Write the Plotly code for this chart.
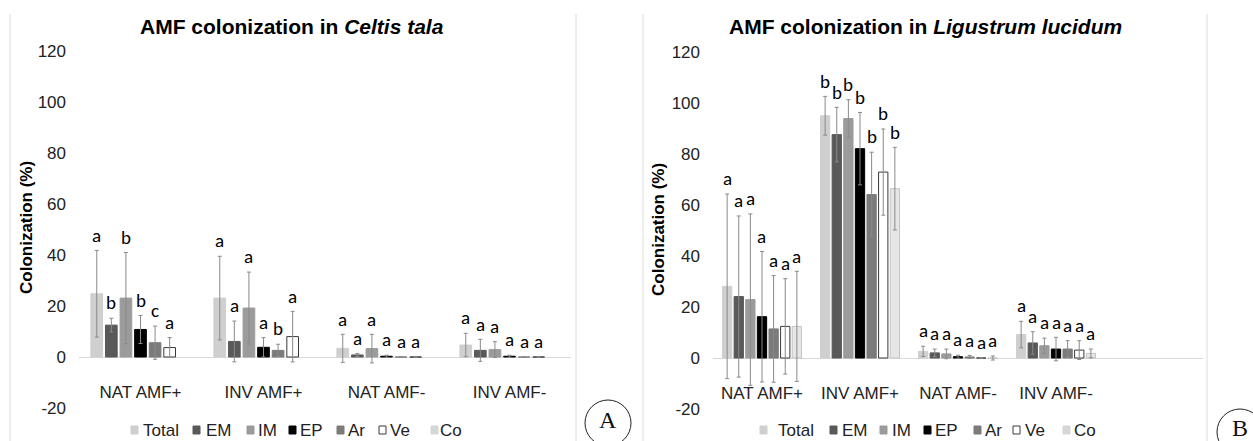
import plotly.graph_objects as go

# ---------------- data ----------------
categories = ["NAT AMF+", "INV AMF+", "NAT AMF-", "INV AMF-"]
series_names = ["Total", "EM", "IM", "EP", "Ar", "Ve", "Co"]

# Panel A: Celtis tala (means)
celtis_total = [24.8, 23.1, 3.4, 4.7]
celtis_em = [12.5, 6.1, 0.8, 2.6]
celtis_im = [23.1, 19.2, 3.3, 2.9]
celtis_ep = [10.8, 3.8, 0.3, 0.3]
celtis_ar = [5.6, 2.6, 0.0, 0.0]
celtis_ve = [3.7, 8.0, 0.0, 0.0]
celtis_co = [None, None, None, None]
# Panel A: error bars (None = no error bar drawn)
celtis_total_err = [17.0, 16.4, 5.5, 4.6]
celtis_em_err = [2.7, 8.0, 0.6, 4.3]
celtis_im_err = [17.9, 14.1, 5.6, 3.1]
celtis_ep_err = [5.5, 3.8, 0.4, 0.4]
celtis_ar_err = [6.5, 2.4, None, None]
celtis_ve_err = [3.9, 9.9, None, None]
celtis_co_err = [None, None, None, None]
# Panel A: significance letters (per series, per category)
celtis_letters = [
    ["a", "a", "a", "a"],   # Total
    ["b", "a", "a", "a"],   # EM
    ["b", "a", "a", "a"],   # IM
    ["b", "a", "a", "a"],   # EP
    ["c", "b", "a", "a"],   # Ar
    ["a", "a", "a", "a"],   # Ve
    ["", "", "", ""],       # Co
]

# Panel B: Ligustrum lucidum (means)
lig_total = [28.1, 95.0, 2.6, 9.2]
lig_em = [24.1, 87.6, 2.0, 5.9]
lig_im = [22.9, 93.9, 1.6, 4.8]
lig_ep = [16.2, 82.1, 0.5, 3.5]
lig_ar = [11.4, 64.1, 0.4, 3.5]
lig_ve = [12.4, 72.9, 0.0, 3.1]
lig_co = [12.4, 66.4, 0.0, 1.8]
# Panel B: error bars
lig_total_err = [36.2, 7.6, 2.0, 5.2]
lig_em_err = [31.6, 10.7, 1.5, 4.4]
lig_im_err = [33.6, 7.4, 1.9, 3.0]
lig_ep_err = [25.6, 14.2, 0.6, 4.6]
lig_ar_err = [20.9, 16.6, 0.6, 3.3]
lig_ve_err = [18.7, 16.9, None, 3.7]
lig_co_err = [21.6, 16.2, 0.8, 1.7]
lig_letters = [
    ["a", "b", "a", "a"],
    ["a", "b", "a", "a"],
    ["a", "b", "a", "a"],
    ["a", "b", "a", "a"],
    ["a", "b", "a", "a"],
    ["a", "b", "a", "a"],
    ["a", "b", "a", "a"],
]

y_ticks = [-20, 0, 20, 40, 60, 80, 100, 120]
y_tick_labels = ["-20", "0", "20", "40", "60", "80", "100", "120"]

# ---------------- style ----------------
W, H = 1253, 441
FONT = "Arial, Liberation Sans, sans-serif"
LETTER_FONT = "Carlito, Lato, sans-serif"
fills = ["#cfcfcf", "#595959", "#9b9b9b", "#000000", "#7b7b7b", "#ffffff", "#e6e6e6"]
lines = ["#cfcfcf", "#595959", "#9b9b9b", "#000000", "#7b7b7b", "#3a3a3a", "#c4c4c4"]
legend_fill = ["#cfcfcf", "#595959", "#9b9b9b", "#000000", "#7b7b7b", "#ffffff", "#d6d6d6"]
legend_line = ["#cfcfcf", "#595959", "#9b9b9b", "#000000", "#7b7b7b", "#3a3a3a", "#d6d6d6"]
BARGAP = 0.17
BARGROUPGAP = 0.2
LETTER_PAD = 6.0

# legend layout: (square left x, text left x) in pixels, per panel
legend_pos = [
    [(131, 142), (193, 205), (247, 257), (289, 299), (337, 347), (379, 389), (431, 439)],
    [(760, 777), (830, 841), (880, 891), (924, 934), (974, 984), (1013, 1024), (1063, 1073)],
]
LEGEND_Y = 430


def px_x(p):
    return p / W


def px_y(p):
    return 1 - p / H


celtis_means = [celtis_total, celtis_em, celtis_im, celtis_ep, celtis_ar, celtis_ve, celtis_co]
celtis_errs = [celtis_total_err, celtis_em_err, celtis_im_err, celtis_ep_err,
               celtis_ar_err, celtis_ve_err, celtis_co_err]
lig_means = [lig_total, lig_em, lig_im, lig_ep, lig_ar, lig_ve, lig_co]
lig_errs = [lig_total_err, lig_em_err, lig_im_err, lig_ep_err, lig_ar_err, lig_ve_err, lig_co_err]

fig = go.Figure()
annotations = []
shapes = []

panels = [
    dict(means=celtis_means, errs=celtis_errs, letters=celtis_letters, xa="x", ya="y"),
    dict(means=lig_means, errs=lig_errs, letters=lig_letters, xa="x2", ya="y2"),
]

nser = len(series_names)
slot = (1 - BARGAP) / nser
for pi, p in enumerate(panels):
    for j, name in enumerate(series_names):
        fig.add_trace(go.Bar(
            x=categories, y=p["means"][j], name=name,
            xaxis=p["xa"], yaxis=p["ya"], offsetgroup=str(j),
            marker=dict(color=fills[j], line=dict(color=lines[j], width=1)),
            error_y=dict(type="data", array=p["errs"][j], visible=True,
                         color="#8a8a8a", thickness=1, width=2),
            showlegend=False,
        ))
        for ci in range(len(categories)):
            letter = p["letters"][j][ci]
            v = p["means"][j][ci]
            if not letter or v is None:
                continue
            e = p["errs"][j][ci] or 0
            annotations.append(dict(
                x=ci + (j - (nser - 1) / 2) * slot, y=v + e + LETTER_PAD,
                xref=p["xa"], yref=p["ya"], text=letter, showarrow=False,
                font=dict(family=LETTER_FONT, size=19, color="#000"),
                xanchor="center", yanchor="middle",
            ))
        # legend item
        sx, tx = legend_pos[pi][j]
        shapes.append(dict(type="rect", xref="paper", yref="paper",
                           x0=px_x(sx), x1=px_x(sx + 7), y0=px_y(LEGEND_Y + 4), y1=px_y(LEGEND_Y - 4),
                           fillcolor=legend_fill[j], line=dict(color=legend_line[j], width=1)))
        annotations.append(dict(x=px_x(tx), y=px_y(LEGEND_Y), xref="paper", yref="paper",
                                text=name, showarrow=False,
                                font=dict(family=FONT, size=17, color="#222"),
                                xanchor="left", yanchor="middle", xshift=-1))

# titles
annotations.append(dict(x=px_x(292), y=px_y(26), xref="paper", yref="paper",
                        text="<b>AMF colonization in <i>Celtis tala</i></b>", showarrow=False,
                        font=dict(family=FONT, size=21, color="#000"), xanchor="center", yanchor="middle"))
annotations.append(dict(x=px_x(925), y=px_y(26), xref="paper", yref="paper",
                        text="<b>AMF colonization in <i>Ligustrum lucidum</i></b>", showarrow=False,
                        font=dict(family=FONT, size=21, color="#000"), xanchor="center", yanchor="middle"))
# y-axis titles
for xc, yc in [(26, 228), (658, 230)]:
    annotations.append(dict(x=px_x(xc), y=px_y(yc), xref="paper", yref="paper",
                            text="<b>Colonization (%)</b>", textangle=-90, showarrow=False,
                            font=dict(family=FONT, size=17, color="#000"),
                            xanchor="center", yanchor="middle"))

# panel tags
for label, cx, cy in [("A", 608, 420), ("B", 1240, 428)]:
    annotations.append(dict(x=px_x(cx), y=px_y(cy), xref="paper", yref="paper",
                            text=label, showarrow=False,
                            font=dict(family="Liberation Serif, Times New Roman, serif", size=24, color="#111"),
                            xanchor="center", yanchor="middle"))

# chart area frames (left/right edges only)
for xe in (10, 576, 643, 1207):
    shapes.append(dict(type="line", xref="paper", yref="paper",
                       x0=px_x(xe), x1=px_x(xe), y0=px_y(460), y1=px_y(14),
                       line=dict(color="#dcdcdc", width=1), layer="below"))
# circles around tags
for cx, cy in [(608, 423), (1240, 432)]:
    shapes.append(dict(type="circle", xref="paper", yref="paper",
                       x0=px_x(cx - 23), x1=px_x(cx + 23), y0=px_y(cy + 23), y1=px_y(cy - 23),
                       line=dict(color="#222", width=1)))

axis_common_y = dict(range=[-20, 120], tickvals=y_ticks, ticktext=y_tick_labels,
                     showgrid=False, zeroline=True,
                     zerolinecolor="#d9d9d9", zerolinewidth=1, showline=False, ticks="",
                     tickfont=dict(family=FONT, size=17, color="#222"), automargin=False,
                     ticklabelstandoff=12, fixedrange=True)

fig.update_layout(
    width=W, height=H, margin=dict(l=0, r=0, t=0, b=0, pad=0),
    paper_bgcolor="white", plot_bgcolor="rgba(0,0,0,0)", template="none",
    barmode="group", bargap=BARGAP, bargroupgap=BARGROUPGAP,
    showlegend=False,
    xaxis=dict(domain=[px_x(79), px_x(571)], range=[-0.5, 3.5], type="category",
               categoryorder="array", categoryarray=categories,
               anchor="free", position=px_y(380), showgrid=False, zeroline=False, showline=False,
               ticks="", tickfont=dict(family=FONT, size=17, color="#222"), automargin=False,
               fixedrange=True),
    yaxis=dict(domain=[px_y(408), px_y(51)], anchor="x", **axis_common_y),
    xaxis2=dict(domain=[px_x(713), px_x(1203)], range=[-0.5, 4.5], type="category",
                categoryorder="array", categoryarray=categories,
                anchor="free", position=px_y(381), showgrid=False, zeroline=False, showline=False,
                ticks="", tickfont=dict(family=FONT, size=17, color="#222"), automargin=False,
                fixedrange=True),
    yaxis2=dict(domain=[px_y(409), px_y(52)], anchor="x2", **axis_common_y),
    annotations=annotations, shapes=shapes,
)

fig.write_html(
    "out.html",
    config={"displayModeBar": False},
    post_script="document.body.style.margin='0px';document.body.style.overflow='hidden';",
)
